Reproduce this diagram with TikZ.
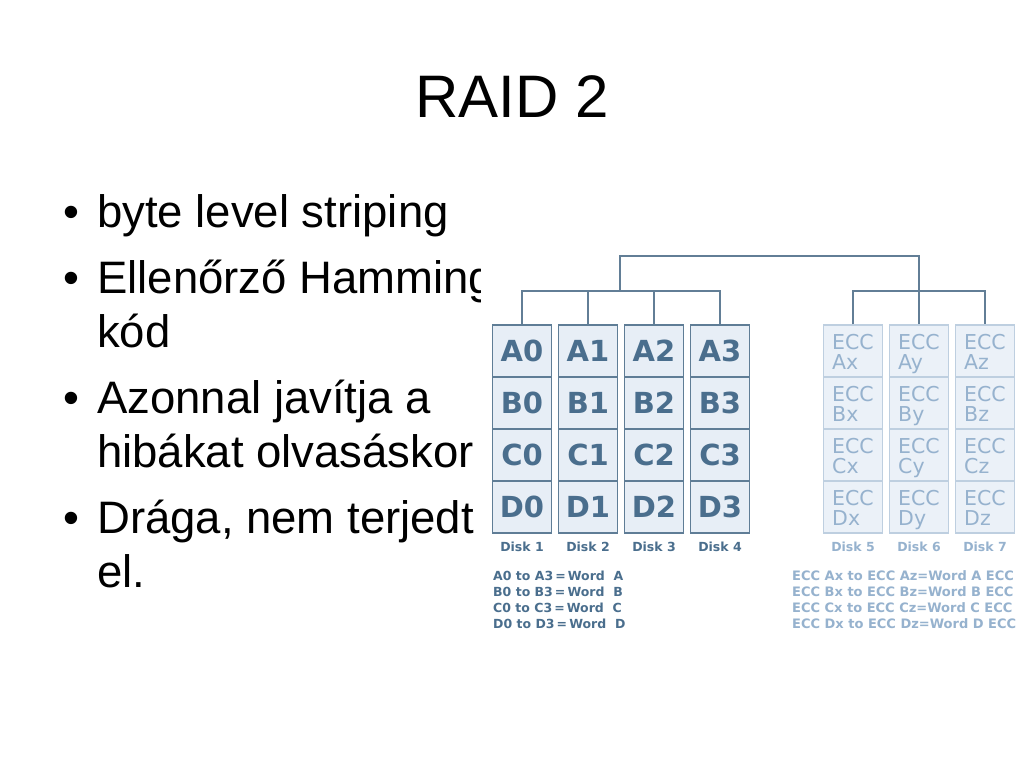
\documentclass[tikz,border=0pt]{standalone}
\usepackage{fontspec}
\setmainfont{Liberation Sans}
\newfontfamily\diskfont{DejaVu Sans}
\usepackage{xcolor}
\usetikzlibrary{positioning}

\definecolor{dataline}{RGB}{95,125,150}
\definecolor{datafill}{RGB}{231,238,246}
\definecolor{datatext}{RGB}{74,110,141}
\definecolor{eccline}{RGB}{190,207,224}
\definecolor{eccfill}{RGB}{235,241,248}
\definecolor{ecctext}{RGB}{150,178,206}
\definecolor{wirecol}{RGB}{98,126,150}

\begin{document}
\begin{tikzpicture}[
    x=1pt, y=-1pt,
    datacell/.style={rectangle, draw=dataline, fill=datafill, line width=1.5pt,
                     minimum width=59pt, minimum height=52pt, inner sep=0pt,
                     text=datatext, font=\diskfont\bfseries\fontsize{29}{29}\selectfont},
    ecccell/.style={rectangle, draw=eccline, fill=eccfill, line width=1.5pt,
                    minimum width=59pt, minimum height=52pt, inner sep=0pt, align=left,
                    text=ecctext, font=\diskfont\fontsize{20.5}{20}\selectfont,
                    text height=42pt, text depth=5pt},
    wire/.style={draw=wirecol, line width=2pt},
    disklabel/.style={inner sep=0pt, font=\diskfont\bfseries\fontsize{12.5}{12.5}\selectfont},
    legend/.style={anchor=west, inner sep=0pt, font=\diskfont\bfseries\fontsize{12.5}{12.5}\selectfont},
    bullet/.style={anchor=base west, inner sep=0pt, font=\fontsize{45.5}{54}\selectfont}
]
\useasboundingbox[fill=white] (0,0) rectangle (1024,768);

% Title
\node[anchor=base, inner sep=0pt, font=\fontsize{60}{60}\selectfont] (title) at (512,117) {RAID 2};

% Bullets
\node[bullet] (b1) at (63,227) {•};
\node[bullet] (t1) at (97,227) {byte level striping};
\node[bullet] (b2) at (63,293) {•};
\node[bullet] (t2) at (97,293) {Ellenőrző Hamming};
\node[bullet] (t2b) at (97,347) {kód};
\node[bullet] (b3) at (63,413) {•};
\node[bullet] (t3) at (97,413) {Azonnal javítja a};
\node[bullet] (t3b) at (97,467) {hibákat olvasáskor};
\node[bullet] (b4) at (63,533) {•};
\node[bullet] (t4) at (97,533) {Drága, nem terjedt};
\node[bullet] (t4b) at (97,587) {el.};

% Picture background
\fill[white] (481,248) rectangle (1024,640);

% Data disks
\node[datacell] (A0) at (522,351) {A0};
\node[datacell] (B0) at (522,403) {B0};
\node[datacell] (C0) at (522,455) {C0};
\node[datacell] (D0) at (522,507) {D0};
\node[datacell] (A1) at (588,351) {A1};
\node[datacell] (B1) at (588,403) {B1};
\node[datacell] (C1) at (588,455) {C1};
\node[datacell] (D1) at (588,507) {D1};
\node[datacell] (A2) at (654,351) {A2};
\node[datacell] (B2) at (654,403) {B2};
\node[datacell] (C2) at (654,455) {C2};
\node[datacell] (D2) at (654,507) {D2};
\node[datacell] (A3) at (720,351) {A3};
\node[datacell] (B3) at (720,403) {B3};
\node[datacell] (C3) at (720,455) {C3};
\node[datacell] (D3) at (720,507) {D3};

% ECC disks
\node[ecccell] (Ax) at (853,351) {ECC\\Ax};
\node[ecccell] (Bx) at (853,403) {ECC\\Bx};
\node[ecccell] (Cx) at (853,455) {ECC\\Cx};
\node[ecccell] (Dx) at (853,507) {ECC\\Dx};
\node[ecccell] (Ay) at (919,351) {ECC\\Ay};
\node[ecccell] (By) at (919,403) {ECC\\By};
\node[ecccell] (Cy) at (919,455) {ECC\\Cy};
\node[ecccell] (Dy) at (919,507) {ECC\\Dy};
\node[ecccell] (Az) at (985,351) {ECC\\Az};
\node[ecccell] (Bz) at (985,403) {ECC\\Bz};
\node[ecccell] (Cz) at (985,455) {ECC\\Cz};
\node[ecccell] (Dz) at (985,507) {ECC\\Dz};

% Disk labels
\node[disklabel, text=datatext] (disk1) at (522,547) {Disk 1};
\node[disklabel, text=datatext] (disk2) at (588,547) {Disk 2};
\node[disklabel, text=datatext] (disk3) at (654,547) {Disk 3};
\node[disklabel, text=datatext] (disk4) at (720,547) {Disk 4};
\node[disklabel, text=ecctext] (disk5) at (853,547) {Disk 5};
\node[disklabel, text=ecctext] (disk6) at (919,547) {Disk 6};
\node[disklabel, text=ecctext] (disk7) at (985,547) {Disk 7};

% Controller wiring
\coordinate (dbus) at (620,291);
\coordinate (top) at (620,256);
\coordinate (ebus) at (Ay.north |- dbus);
\draw[wire] (A0.north) |- (dbus) -| (A3.north);
\draw[wire] (A1.north) -- (A1.north |- dbus);
\draw[wire] (A2.north) -- (A2.north |- dbus);
\draw[wire] (dbus) -- (top) -| (Ay.north);
\draw[wire] (Ax.north) |- (ebus) -| (Az.north);

% Legends
\node[legend, text=datatext] (wa) at (493,576) {A0 to A3\,=\,Word~~A};
\node[legend, text=datatext] (wb) at (493,592) {B0 to B3\,=\,Word~~B};
\node[legend, text=datatext] (wc) at (493,608) {C0 to C3\,=\,Word~~C};
\node[legend, text=datatext] (wd) at (493,624) {D0 to D3\,=\,Word~~D};
\node[legend, text=ecctext, font=\diskfont\bfseries\fontsize{13}{13}\selectfont] (ea) at (792,576) {ECC Ax to ECC Az=Word A ECC};
\node[legend, text=ecctext, font=\diskfont\bfseries\fontsize{13}{13}\selectfont] (eb) at (792,592) {ECC Bx to ECC Bz=Word B ECC};
\node[legend, text=ecctext, font=\diskfont\bfseries\fontsize{13}{13}\selectfont] (ec) at (792,608) {ECC Cx to ECC Cz=Word C ECC};
\node[legend, text=ecctext, font=\diskfont\bfseries\fontsize{13}{13}\selectfont] (ed) at (792,624) {ECC Dx to ECC Dz=Word D ECC};

\end{tikzpicture}
\end{document}
